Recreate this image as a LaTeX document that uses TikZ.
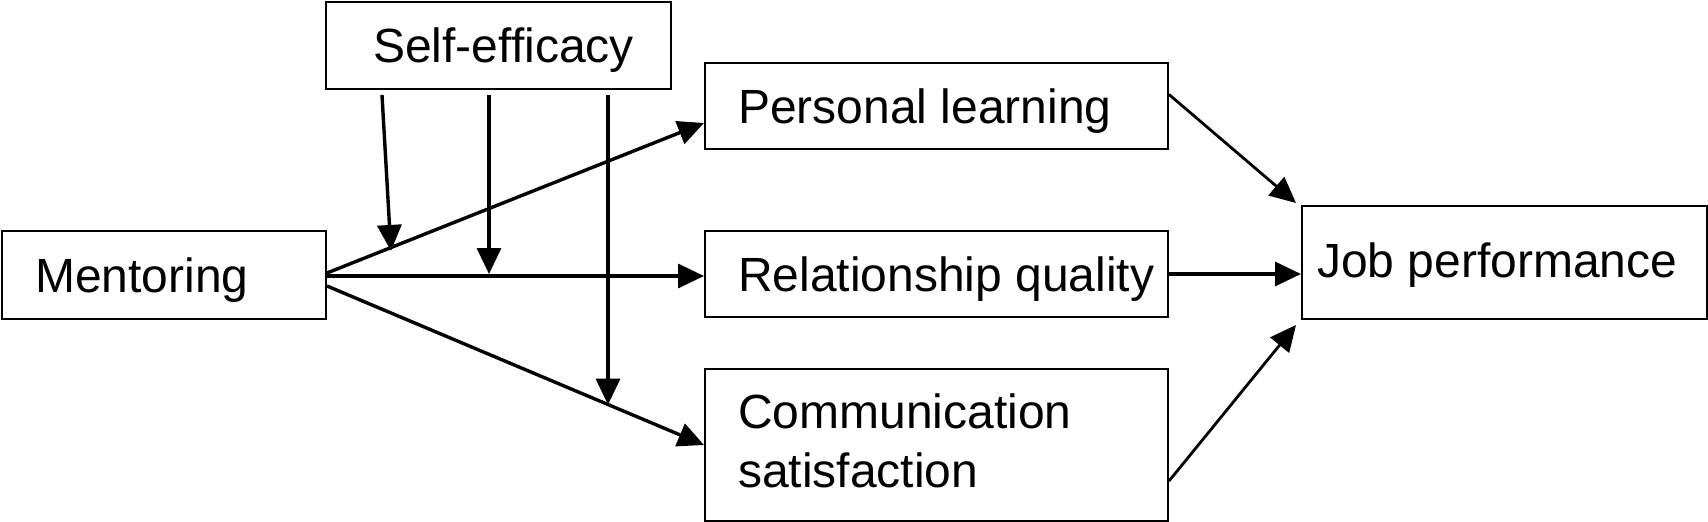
\documentclass[tikz,border=0pt]{standalone}
\usepackage{fontspec}
\setmainfont{Liberation Sans}
\usetikzlibrary{arrows.meta,calc}
\begin{document}
\begin{tikzpicture}[x=1pt,y=-1pt,
  box/.style={draw,line width=2pt,inner sep=0pt,anchor=north west},
  lbl/.style={anchor=base west,inner sep=0pt,font=\fontsize{48}{58}\selectfont},
  arr/.style={line width=3.4pt,-{Triangle[length=26pt,width=24pt]}}]
\useasboundingbox (0,0) rectangle (1708,522);
% boxes
\node[box,minimum width=345pt,minimum height=87pt] (se) at (325,1) {};
\node[box,minimum width=324pt,minimum height=88pt] (ment) at (1,230) {};
\node[box,minimum width=463pt,minimum height=86pt] (pl) at (704,62) {};
\node[box,minimum width=463pt,minimum height=86pt] (rq) at (704,230) {};
\node[box,minimum width=463pt,minimum height=152pt] (cs) at (704,368) {};
\node[box,minimum width=405pt,minimum height=113pt] (jp) at (1301,205) {};
% labels
\node[lbl] (tment) at (35,292) {Mentoring};
\node[lbl] (tse) at (373,62) {Self-efficacy};
\node[lbl] (tpl) at (738,123) {Personal learning};
\node[lbl] (trq) at (738,291) {Relationship quality};
\node[lbl] (tcs1) at (738,428) {Communication};
\node[lbl] (tcs2) at (738,487) {satisfaction};
\node[lbl] (tjp) at (1317,277) {Job performance};
% mentoring paths
\coordinate (m1) at ([yshift=2pt]ment.east);
\coordinate (p1) at ([yshift=-17pt]pl.west);
\coordinate (m3) at ([yshift=-11pt]ment.east);
\draw[arr] (m1) -- (p1);
\draw[arr] ([yshift=-1pt]ment.east) -- ([yshift=-1pt]ment.east -| rq.west);
\draw[arr] (m3) -- (cs.west);
% moderator arrows
\coordinate (s1) at ([xshift=57pt,yshift=-5pt]se.south west);
\coordinate (s2) at ([xshift=164pt,yshift=-5pt]se.south west);
\coordinate (s3) at ([xshift=283pt,yshift=-5pt]se.south west);
\coordinate (t1) at ($(m1)!0.167!(p1)$);
\coordinate (t3) at ($(m3)!0.7467!(cs.west)$);
\draw[arr] (s1) -- ([xshift=1pt,yshift=-3pt]t1);
\draw[arr] (s2) -- (s2 |- rq.west);
\draw[arr] (s3) -- (s3 |- t3);
% to job performance
\draw[arr,line width=2.8pt] ([yshift=11.5pt]pl.east) -- ([xshift=-5pt,yshift=2pt]jp.north west);
\draw[arr] (rq.east) -- (rq.east -| jp.west);
\draw[arr,line width=2.8pt] ([yshift=-36pt]cs.east) -- ([xshift=-5pt,yshift=-5pt]jp.south west);
\end{tikzpicture}
\end{document}
